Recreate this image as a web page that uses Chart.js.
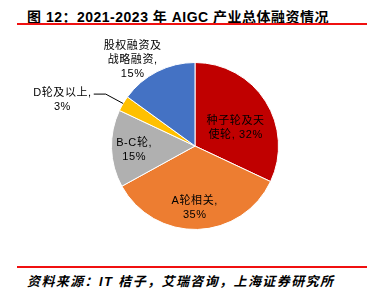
<!DOCTYPE html>
<html>
<head>
<meta charset="utf-8">
<script src="https://cdn.jsdelivr.net/npm/chart.js@4"></script>
<style>
  body { margin: 0; background: #fff; width: 374px; height: 298px; position: relative; overflow: hidden; }
  #title { position: absolute; left: 27px; top: 6px; font: bold 14px "Liberation Sans", "Noto Sans CJK SC", sans-serif; letter-spacing: 0.5px; color: #000; white-space: nowrap; }
  .rule { position: absolute; left: 17px; width: 350px; height: 2px; background: #f01010; }
  #src { position: absolute; left: 27px; top: 271px; font: italic bold 13px "Liberation Sans", "Noto Sans CJK SC", sans-serif; letter-spacing: 1.4px; color: #000; white-space: nowrap; }
  #wrap { position: absolute; left: 0; top: 30px; width: 374px; height: 232px; }
</style>
</head>
<body>
<div id="title">图 12：2021-2023 年 AIGC 产业总体融资情况</div>
<div class="rule" style="top:23px"></div>
<div id="wrap"><canvas id="pie"></canvas></div>
<div class="rule" style="top:266px"></div>
<div id="src">资料来源：IT 桔子，艾瑞咨询，上海证券研究所</div>
<script>
// ── data ────────────────────────────────────
const categories = ["种子轮及天使轮", "A轮相关", "B-C轮", "D轮及以上", "股权融资及战略融资"];
const shares = [32, 35, 15, 3, 15];
const labelLines = [
  ["种子轮及天", "使轮, 32%"],
  ["A轮相关,", "35%"],
  ["B-C轮,", "15%"],
  ["D轮及以上,", "3%"],
  ["股权融资及", "战略融资,", "15%"],
];
const COLORS = ["#c00000", "#ed7d31", "#b0b0b0", "#ffc000", "#4472c4"];

// label placement: radius factor, angle shift (deg), leader line
const LBL = [
  { f: 0.53, shift: 9 },
  { f: 0.74, shift: 2 },
  { f: 0.73, shift: -1.5 },
  { f: 1.68, shift: -11.5, leader: true },
  { f: 1.27, shift: -9 },
];

const labelPlugin = {
  id: "sliceLabels",
  afterDatasetsDraw(chart) {
    const ctx = chart.ctx;
    const arcs = chart.getDatasetMeta(0).data;
    ctx.save();
    ctx.font = '11px "Liberation Sans", "Noto Sans CJK SC", sans-serif';
    ctx.letterSpacing = "0.6px";
    ctx.fillStyle = "#000";
    ctx.textAlign = "center";
    ctx.textBaseline = "middle";
    arcs.forEach((arc, i) => {
      const { x, y, startAngle, endAngle, outerRadius } = arc.getProps(["x", "y", "startAngle", "endAngle", "outerRadius"], true);
      const mid = (startAngle + endAngle) / 2;
      const a = mid + (LBL[i].shift * Math.PI) / 180;
      const r = outerRadius * LBL[i].f;
      const lx = x + Math.cos(a) * r;
      const ly = y + Math.sin(a) * r;
      const lines = labelLines[i];
      const lh = 14;
      const y0 = ly - ((lines.length - 1) * lh) / 2;
      lines.forEach((s, k) => ctx.fillText(s, lx, y0 + k * lh));
      if (LBL[i].leader) {
        const w = ctx.measureText(lines[0]).width;
        const sx = lx + w / 2 + 2;
        const sy = y0 + 1;
        const ex = x + Math.cos(mid) * outerRadius;
        const ey = y + Math.sin(mid) * outerRadius;
        ctx.strokeStyle = "#000";
        ctx.lineWidth = 1;
        ctx.beginPath();
        ctx.moveTo(sx, sy);
        ctx.lineTo(sx + 12, sy);
        ctx.lineTo(ex, ey);
        ctx.stroke();
      }
    });
    ctx.restore();
  },
};

new Chart(document.getElementById("pie"), {
  type: "pie",
  data: {
    labels: categories,
    datasets: [
      {
        data: shares,
        backgroundColor: COLORS,
        borderColor: "#fff",
        borderWidth: 1,
        hoverOffset: 0,
      },
    ],
  },
  options: {
    responsive: true,
    maintainAspectRatio: false,
    animation: false,
    layout: { padding: { left: 16, right: 0, top: 32, bottom: 32 } },
    plugins: { legend: { display: false }, tooltip: { enabled: false } },
  },
  plugins: [labelPlugin],
});
</script>
</body>
</html>
